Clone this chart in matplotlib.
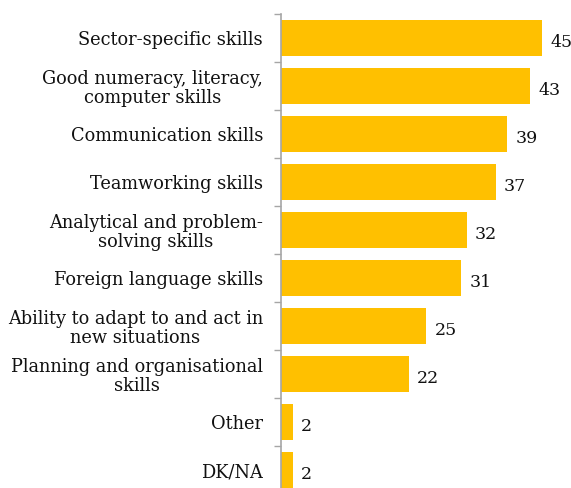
import matplotlib.pyplot as plt
import numpy as np

categories = [
    "Sector-specific skills",
    "Good numeracy, literacy,\ncomputer skills",
    "Communication skills",
    "Teamworking skills",
    "Analytical and problem-\nsolving skills",
    "Foreign language skills",
    "Ability to adapt to and act in\nnew situations",
    "Planning and organisational\nskills",
    "Other",
    "DK/NA",
]
values = [45, 43, 39, 37, 32, 31, 25, 22, 2, 2]

bar_color = "#FFC000"
axis_grey = "#A6A6A6"

plt.rcParams['font.family'] = ['DejaVu Serif']

fig = plt.figure(figsize=(5.71, 4.88), dpi=100)
ax = fig.add_axes([0.4921, 0.0, 0.5079, 0.9713])

y = np.arange(len(categories))
ax.barh(y, values, height=0.75, color=bar_color)

# value labels just past the bar ends
for yi, v in zip(y, values):
    ax.annotate(str(v), (v, yi), xytext=(6, -3), textcoords="offset points",
                ha="left", va="center", fontsize=12.5, color="#111111")

ax.set_xlim(0, 50)
ax.set_ylim(len(categories) - 1 + 0.375, -0.5)

ax.set_yticks(y)
ax.set_yticklabels(categories, fontsize=12.8, color="#111111",
                   multialignment="center", linespacing=1.05)
ax.tick_params(axis="y", which="major", length=0, pad=13)
ax.set_yticks(np.arange(-0.5, len(categories) - 0.5, 1.0), minor=True)
ax.tick_params(axis="y", which="minor", length=5, width=1, color=axis_grey)

ax.set_xticks([])
for s in ["top", "right", "bottom"]:
    ax.spines[s].set_visible(False)
ax.spines["left"].set_color(axis_grey)
ax.spines["left"].set_linewidth(1.2)

fig.savefig("out.png", dpi=100)
